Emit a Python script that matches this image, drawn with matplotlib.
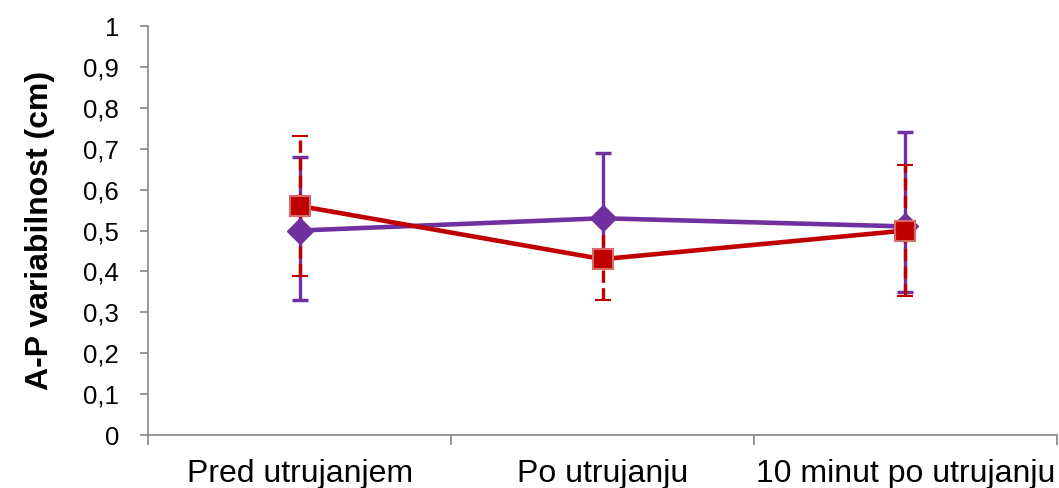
import matplotlib.pyplot as plt
from matplotlib.ticker import FuncFormatter

categories = ["Pred utrujanjem", "Po utrujanju", "10 minut po utrujanju"]

# purple series (diamonds)
purple_vals = [0.50, 0.53, 0.51]
purple_lo = [0.17, 0.09, 0.16]
purple_hi = [0.18, 0.16, 0.23]

# red series (squares)
red_vals = [0.56, 0.43, 0.50]
red_lo = [0.17, 0.10, 0.16]
red_hi = [0.17, 0.10, 0.16]

purple = "#7030A0"
red = "#C00000"

plt.rcParams['font.family'] = ['Liberation Sans', 'DejaVu Sans']

fig = plt.figure(figsize=(10.59, 4.88), dpi=100)
ax = fig.add_axes([0.14, 0.1086, 0.858, 0.838])

x = list(range(len(categories)))

# error bars first
eb = ax.errorbar(x, purple_vals, yerr=[purple_lo, purple_hi], fmt="none",
                 ecolor=purple, elinewidth=2.4, capsize=6, capthick=2.5, zorder=2)
eb = ax.errorbar(x, red_vals, yerr=[red_lo, red_hi], fmt="none",
                 ecolor=red, elinewidth=2.4, capsize=6, capthick=1.5, zorder=3)
eb[2][0].set_linestyle("--")

ax.plot(x, purple_vals, color=purple, lw=3.3, marker="D", ms=13,
        mfc=purple, mec=purple, zorder=4)
ax.plot(x, red_vals, color=red, lw=3.3, marker="s", ms=14,
        mfc=red, mec="#d86a6a", mew=1.5, zorder=5)

ax.set_xlim(-0.5, 2.5)
ax.set_ylim(0, 1)
ax.set_yticks([i / 10 for i in range(11)])
ax.yaxis.set_major_formatter(FuncFormatter(
    lambda v, p: "0" if v == 0 else ("1" if v == 1 else ("%.1f" % v).replace(".", ","))))
ax.set_xticks(x)
ax.set_xticklabels(categories, fontsize=23)
ax.set_xticks([-0.5, 0.5, 1.5, 2.5], minor=True)
ax.tick_params(axis="x", which="major", length=0, pad=17)
ax.tick_params(axis="x", which="minor", length=7, color="#868686", width=1.2)
ax.tick_params(axis="y", length=6, color="#868686", width=1.2, labelsize=18.5, pad=15)

for s in ["top", "right"]:
    ax.spines[s].set_visible(False)
for s in ["left", "bottom"]:
    ax.spines[s].set_color("#868686")
    ax.spines[s].set_linewidth(1.2)

ax.set_ylabel("A-P variabilnost (cm)", fontsize=23, fontweight="bold", labelpad=20)

fig.savefig("out.png", dpi=100)
